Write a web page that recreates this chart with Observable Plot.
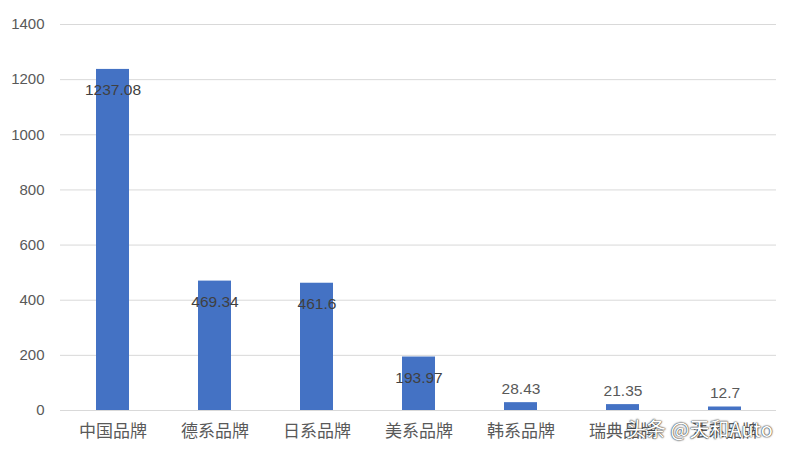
<!DOCTYPE html>
<html><head><meta charset="utf-8">
<script src="https://cdn.jsdelivr.net/npm/d3@7"></script>
<script src="https://cdn.jsdelivr.net/npm/@observablehq/plot@0.6"></script>
<style>
body{margin:0;background:#fff;}
#wrap{position:relative;width:792px;height:451px;}
#wm{position:absolute;left:626px;top:414px;font-family:"Noto Sans CJK SC",sans-serif;font-size:20px;color:#fff;text-shadow:0 0 2px #333,0 0 1px #000;white-space:nowrap;}
</style></head>
<body><div id="wrap"><div id="wm">头条 @天和Auto</div></div>
<script>
const categories = ["中国品牌","德系品牌","日系品牌","美系品牌","韩系品牌","瑞典品牌","法系品牌"];
const values = [1237.08, 469.34, 461.6, 193.97, 28.43, 21.35, 12.7];
const labels = ["1237.08","469.34","461.6","193.97","28.43","21.35","12.7"];
const yTicks = [0,200,400,600,800,1000,1200,1400];
const data = categories.map((c,i)=>({cat:c, value:values[i], label:labels[i]}));
const big = data.filter(d=>d.value>100), small = data.filter(d=>d.value<=100);
const chart = Plot.plot({
  width:792, height:451,
  marginLeft:60, marginRight:16, marginTop:24, marginBottom:41,
  style:{fontFamily:"'Noto Sans CJK SC', sans-serif", fontSize:"15px", color:"#595959", background:"#fff"},
  x:{domain:categories, paddingInner:0.68, paddingOuter:0.32, label:null},
  y:{domain:[0,1400], label:null},
  marks:[
    Plot.gridY(yTicks,{stroke:"#d9d9d9", strokeOpacity:1}),
    Plot.barY(data,{x:"cat", y:"value", fill:"#4472C4"}),
    Plot.text(big,{x:"cat", y:"value", text:"label", dy:21, fill:"#404040", fontSize:15.5, fontFamily:"Liberation Sans, Arial, sans-serif"}),
    Plot.text(small,{x:"cat", y:"value", text:"label", dy:-14, fill:"#595959", fontSize:15.5, fontFamily:"Liberation Sans, Arial, sans-serif"}),
    Plot.axisY({ticks:yTicks, tickFormat:d=>String(d), label:null, tickSize:0, tickPadding:16, fontSize:15, fontFamily:"Liberation Sans, Arial, sans-serif", fill:"#595959"}),
    Plot.axisX({label:null, tickSize:0, tickPadding:14, fontSize:17, fill:"#595959"})
  ]
});
document.getElementById("wrap").prepend(chart);
</script></body></html>
